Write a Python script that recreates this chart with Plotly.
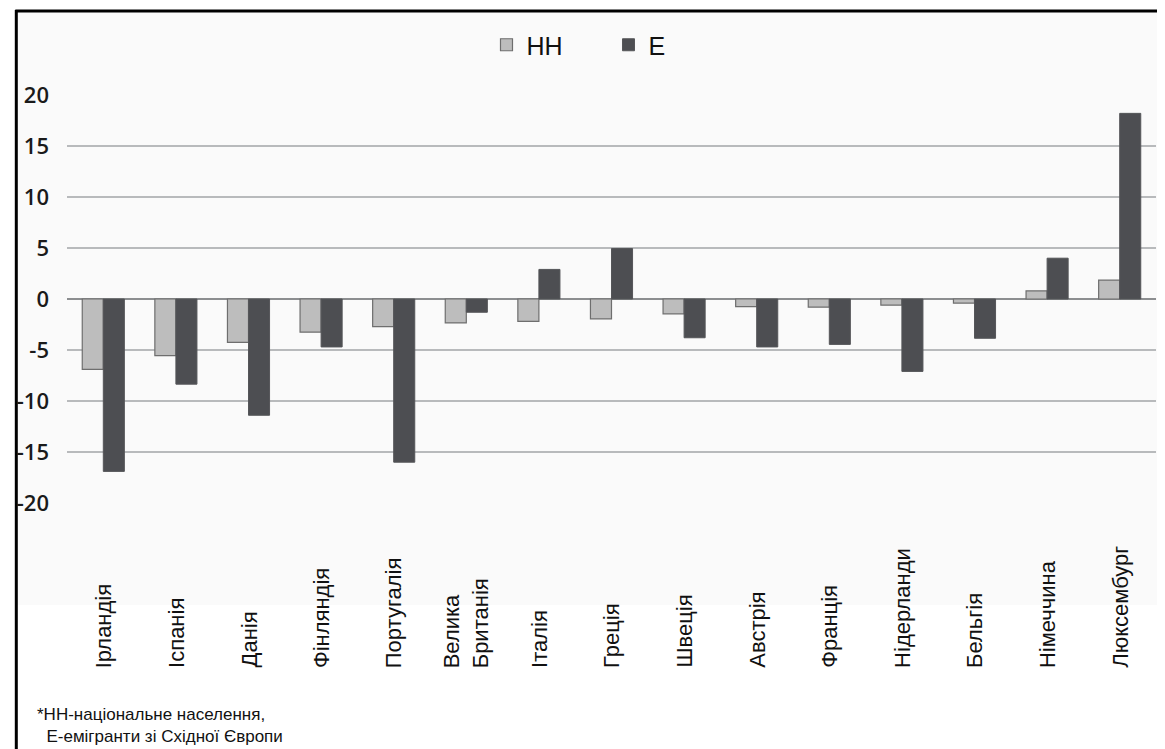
import plotly.graph_objects as go

countries = ["Ірландія", "Іспанія", "Данія", "Фінляндія", "Португалія",
             "Велика<br>Британія", "Італія", "Греція", "Швеція", "Австрія",
             "Франція", "Нідерланди", "Бельгія", "Німеччина", "Люксембург"]
nn_values = [-6.9, -5.55, -4.25, -3.25, -2.7, -2.35, -2.2, -1.95, -1.45, -0.75,
             -0.8, -0.6, -0.4, 0.8, 1.85]
e_values = [-16.9, -8.35, -11.4, -4.7, -16.0, -1.3, 2.9, 4.95, -3.8, -4.7,
            -4.45, -7.1, -3.85, 4.0, 18.2]
y_ticks = [-20, -15, -10, -5, 0, 5, 10, 15, 20]
footnote = "*НН-національне населення,<br>  Е-емігранти зі Східної Європи"

fig = go.Figure()
fig.add_trace(go.Bar(x=countries, y=nn_values, name="НН",
                     marker=dict(color="#bdbdbd", line=dict(color="#6e6e6e", width=1.2))))
fig.add_trace(go.Bar(x=countries, y=e_values, name="Е",
                     marker=dict(color="#4d4e52", line=dict(color="#555659", width=1))))

# page body has an 8px margin; work in page pixel coordinates and convert
OFF = 8
W, H = 1165 - OFF, 749 - OFF
L, R, T, B = 61 - OFF, 8.5, 95 - OFF, 246
pw, ph = W - L - R, H - T - B

def px(x):
    return (x - OFF - L) / pw

def py(y):
    return (H - B - (y - OFF)) / ph

annotations = []
for c in countries:
    annotations.append(dict(x=c, xref="x", y=py(670), yref="paper", text=c,
                            textangle=-90, showarrow=False, xanchor="center",
                            yanchor="bottom", align="left",
                            font=dict(family="Liberation Sans, Arial", size=22, color="#111")))
annotations.append(dict(x=px(29), y=py(703), xref="paper", yref="paper", text=footnote,
                        showarrow=False, xanchor="left", yanchor="top", align="left",
                        font=dict(family="Liberation Sans, Arial", size=17, color="#111")))

shapes = [
    dict(type="rect", xref="paper", yref="paper", x0=px(11), x1=px(1165), y0=py(605), y1=py(12),
         fillcolor="#fafafa", line=dict(width=0), layer="below"),
    dict(type="line", xref="paper", yref="paper", x0=px(10), x1=px(10), y0=py(10), y1=py(749),
         line=dict(color="#000", width=3)),
    dict(type="line", xref="paper", yref="paper", x0=px(9), x1=px(1165), y0=py(11), y1=py(11),
         line=dict(color="#000", width=3)),
]

fig.update_layout(
    width=W, height=H,
    margin=dict(l=L, r=R, t=T, b=B),
    paper_bgcolor="#ffffff", plot_bgcolor="rgba(0,0,0,0)",
    barmode="group", bargap=0.42, bargroupgap=0,
    showlegend=True,
    legend=dict(orientation="h", x=px(483), xanchor="left", y=py(45), yanchor="middle",
                font=dict(family="Liberation Sans, Arial", size=25, color="#111"),
                bgcolor="rgba(0,0,0,0)", itemwidth=30, entrywidth=77),
    xaxis=dict(showticklabels=False, showgrid=False, zeroline=False, showline=False, ticks=""),
    yaxis=dict(range=[-20, 20], tickvals=y_ticks, ticktext=[str(v) for v in y_ticks],
               showgrid=True, gridcolor="#b8babc", gridwidth=2,
               zeroline=True, zerolinecolor="#8c8e90", zerolinewidth=2,
               showline=False, ticks="", ticklabelstandoff=17,
               tickfont=dict(family="Open Sans, Noto Sans", size=22, color="#1a1a1a", weight=600)),
    annotations=annotations,
    shapes=shapes,
)

fig.write_html("out.html")
